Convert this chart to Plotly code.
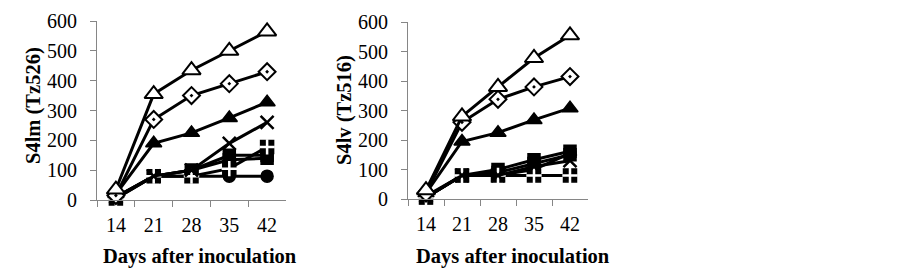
import plotly.graph_objects as go

days = ["14", "21", "28", "35", "42"]
y_ticks = [0, 100, 200, 300, 400, 500, 600]

# Left panel: S4lm (Tz526)
lm_tri_open = [35, 355, 435, 500, 565]
lm_diamond = [15, 270, 350, 390, 430]
lm_tri_fill = [20, 190, 225, 275, 328]
lm_x = [10, 80, 100, 190, 260]
lm_square_a = [10, 80, 100, 150, 150]
lm_square_b = [10, 80, 100, 135, 140]
lm_square_plus = [5, 80, 80, 105, 178]
lm_circle = [5, 80, 80, 80, 80]

# Right panel: S4lv (Tz516)
lv_tri_open = [30, 280, 380, 478, 555]
lv_diamond = [20, 260, 338, 380, 415]
lv_tri_fill = [20, 195, 225, 268, 308]
lv_x = [10, 80, 80, 110, 130]
lv_square_a = [5, 80, 100, 133, 162]
lv_square_b = [5, 80, 90, 120, 150]
lv_circle = [5, 80, 80, 100, 155]
lv_square_plus = [5, 80, 80, 80, 80]

FONT = "Liberation Serif"
fig = go.Figure()

def add_series(vals, xa, ya, symbol, fill, size, lw=1.5):
    fig.add_trace(go.Scatter(
        x=days, y=vals, xaxis=xa, yaxis=ya, mode="lines+markers",
        line=dict(color="black", width=3),
        marker=dict(symbol=symbol, color=fill, size=size,
                    line=dict(color="black", width=lw)),
        cliponaxis=False, showlegend=False))

def add_plus_square(vals, xa, ya):
    add_series(vals, xa, ya, "square", "black", 13)
    fig.add_trace(go.Scatter(
        x=days, y=vals, xaxis=xa, yaxis=ya, mode="markers",
        marker=dict(symbol="cross-thin", size=11, color="white",
                    line=dict(color="white", width=2.5)),
        cliponaxis=False, showlegend=False))

for xa, ya, s in [("x", "y", dict(t=lm_tri_open, d=lm_diamond, tf=lm_tri_fill, xx=lm_x,
                                  sa=lm_square_a, sb=lm_square_b, sp=lm_square_plus, c=lm_circle)),
                  ("x2", "y2", dict(t=lv_tri_open, d=lv_diamond, tf=lv_tri_fill, xx=lv_x,
                                    sa=lv_square_a, sb=lv_square_b, sp=lv_square_plus, c=lv_circle))]:
    add_series(s["c"], xa, ya, "circle", "black", 12)
    add_series(s["sb"], xa, ya, "square", "black", 12)
    add_series(s["sa"], xa, ya, "square", "black", 12)
    add_plus_square(s["sp"], xa, ya)
    add_series(s["xx"], xa, ya, "x-thin", "black", 13, lw=2.5)
    add_series(s["tf"], xa, ya, "triangle-up", "black", 14)
    add_series(s["d"], xa, ya, "diamond-dot", "white", 13, lw=2)
    add_series(s["t"], xa, ya, "triangle-up", "white", 16, lw=2)

W, H = 903, 271
OFF = 8  # page body margin
def px_x(p): return (p - OFF) / W
def px_y(p): return 1 - (p - OFF) / H

axis_common = dict(showgrid=False, zeroline=False, showline=True, linecolor="#868686",
                   linewidth=1, ticks="outside", tickcolor="#868686", ticklen=6,
                   automargin=False,
                   tickfont=dict(family=FONT, size=20, color="black"))

title_font = dict(family=FONT, size=20.5, color="black")

def ann(text, x, y, angle=0):
    return dict(text=text, x=px_x(x), y=px_y(y), xref="paper", yref="paper",
                xanchor="center", yanchor="middle", showarrow=False,
                textangle=angle, font=title_font)

fig.update_layout(
    template="none",
    width=W, height=H, margin=dict(l=0, r=0, t=0, b=0),
    paper_bgcolor="white", plot_bgcolor="white",
    font=dict(family=FONT, size=20, color="black"),
    xaxis=dict(domain=[px_x(97), px_x(286)], type="category", tickson="boundaries",
               range=[-0.5, 4.5], anchor="y", ticklabelstandoff=7, **axis_common),
    yaxis=dict(domain=[px_y(200), px_y(21)], range=[0, 600], tickvals=y_ticks,
               anchor="x", ticklabelstandoff=9, **axis_common),
    xaxis2=dict(domain=[px_x(408), px_x(588)], type="category", tickson="boundaries",
                range=[-0.5, 4.5], anchor="y2", ticklabelstandoff=7, **axis_common),
    yaxis2=dict(domain=[px_y(199), px_y(22)], range=[0, 600], tickvals=y_ticks,
                anchor="x2", ticklabelstandoff=9, **axis_common),
    annotations=[
        ann("<b>Days after inoculation</b>", 200, 256),
        ann("<b>Days after inoculation</b>", 513, 256),
        ann("<b>S4lm (Tz526)</b>", 33, 106, -90),
        ann("<b>S4lv (Tz516)</b>", 344, 110, -90),
    ],
)

fig.write_html("out.html")
